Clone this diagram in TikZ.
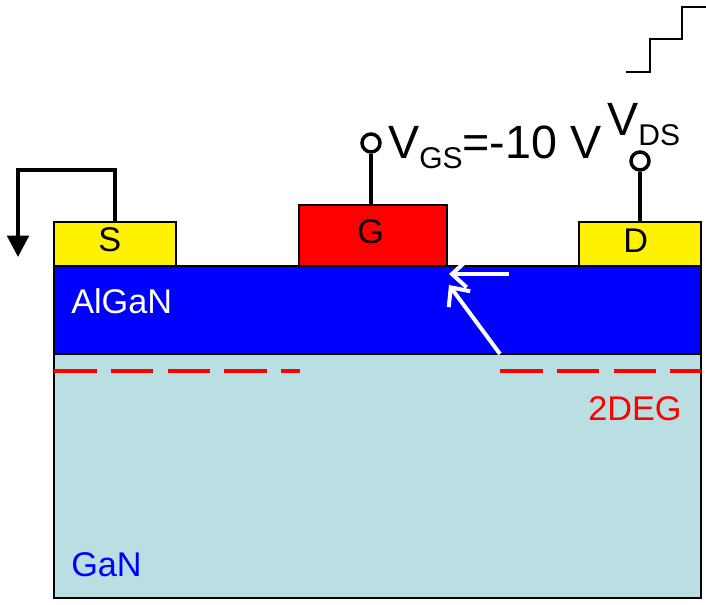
\documentclass[tikz,border=0pt]{standalone}
\usepackage{fontspec}
\setmainfont{Liberation Sans}
\usetikzlibrary{positioning, arrows.meta}
\definecolor{ganblue}{HTML}{B9DFE3}

\begin{document}
\begin{tikzpicture}[x=0.75pt, y=-0.75pt, node distance=0pt,
    layer/.style={rectangle, draw, line width=0.9pt, outer sep=0pt, inner sep=0pt, minimum width=485.25pt},
    contact/.style={rectangle, draw, line width=0.9pt, outer sep=0pt, inner sep=0pt, minimum height=33pt},
    pin/.style={circle, draw, line width=2.6pt, fill=white, inner sep=0pt, minimum size=13.5pt},
    wire/.style={line width=3pt},
    whitearrow/.style={draw=white, line width=3pt, -{Straight Barb[length=11pt, width=20pt, line width=3pt]}},
    bigtxt/.style={font=\fontsize{25.7}{28}\selectfont, inner sep=0pt, anchor=base west},
    hugetxt/.style={font=\fontsize{35}{37}\selectfont, inner sep=0pt, anchor=base west}]
    \useasboundingbox (0,0) rectangle (706,604);

    % Layers
    \node [layer, fill=blue, minimum height=66pt, anchor=north west] (algan) at (54,266) {};
    \node [layer, fill=ganblue, minimum height=183pt, below=of algan] (gan) {};

    % Contacts
    \node [contact, fill=yellow, minimum width=91.5pt, above right=0pt and 0pt of algan.north west] (source) {};
    \node [contact, fill=red, minimum width=111pt, minimum height=45.75pt, anchor=south west] (gate) at (299,266) {};
    \node [contact, fill=yellow, minimum width=91.5pt, above left=0pt and 0pt of algan.north east] (drain) {};

    % Labels
    \node [bigtxt] (slabel) at (98,251) {S};
    \node [bigtxt] (glabel) at (357,243) {G};
    \node [bigtxt] (dlabel) at (623,252) {D};
    \node [bigtxt, text=white] (alganlabel) at (71,313) {AlGaN};
    \node [bigtxt, text=blue] (ganlabel) at (71,576) {GaN};
    \node [bigtxt, text=red] (twodeg) at (588,420) {2DEG};
    \node [hugetxt] (vgs) at (388,158) {V\raisebox{-7.5pt}{\fontsize{22.5}{24}\selectfont GS}=-10 V};
    \node [hugetxt] (vds) at (607,135) {V\raisebox{-7.5pt}{\fontsize{22.5}{24}\selectfont DS}};

    % Pins
    \node [pin] (gatepin) at (371,143) {};
    \node [pin] (drainpin) at (640,161) {};
    \draw [wire] (gatepin) -- (gatepin |- gate.north);
    \draw [wire] (drainpin) -- (drainpin |- drain.north);

    % Source return
    \coordinate (srccorner) at (18,170);
    \coordinate (srcend) at (18,257);
    \draw [wire, -{Triangle[length=16pt, width=16pt]}] (source.north) |- (srccorner) -- (srcend);

    % Staircase
    \coordinate (stair0) at (626,72);
    \coordinate (stair1) at (650,39);
    \coordinate (stair2) at (682,7);
    \coordinate (stair3) at (706,7);
    \draw [line width=2.2pt] (stair0) -| (stair1) -| (stair2) -- (stair3);

    % Electron paths
    \coordinate (tail1) at (509,274);
    \coordinate (head1) at (449,274);
    \coordinate (tail2) at (500,354);
    \coordinate (head2) at (449,285);
    \draw [whitearrow] (tail1) -- (head1);
    \draw [whitearrow] (tail2) -- (head2);

    % 2DEG
    \coordinate (deg1) at (54,371);
    \coordinate (deg2) at (300,371);
    \coordinate (deg3) at (500,371);
    \coordinate (deg4) at (701,371);
    \draw [red, line width=2.7pt, dash pattern=on 32pt off 10.6pt] (deg1) -- (deg2);
    \draw [red, line width=2.7pt, dash pattern=on 32pt off 10.6pt] (deg3) -- (deg4);
\end{tikzpicture}
\end{document}
